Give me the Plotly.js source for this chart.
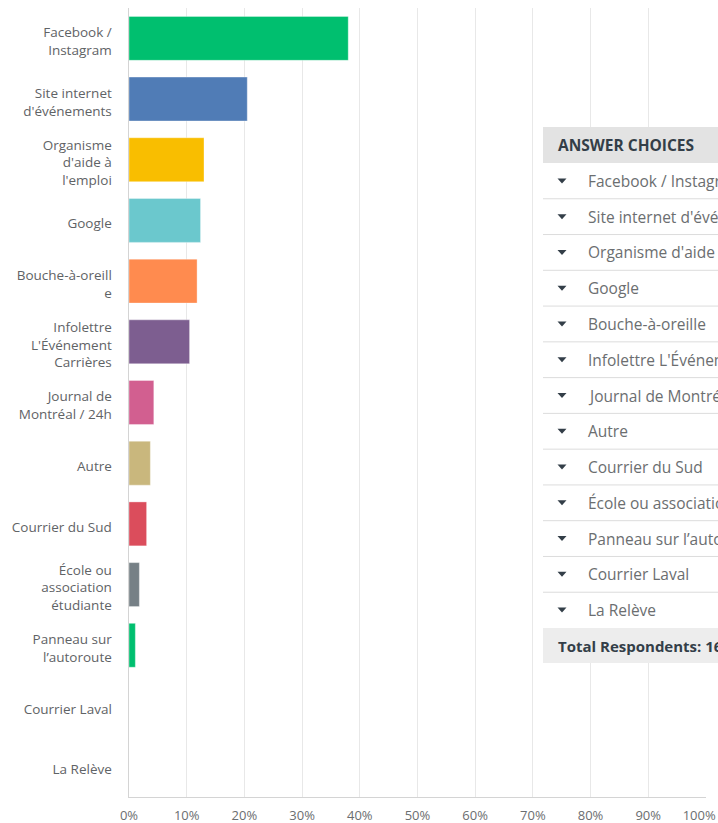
<!DOCTYPE html>
<html>
<head>
<meta charset="utf-8">
<script src="https://cdn.plot.ly/plotly-3.0.1.min.js"></script>
<style>
html,body{margin:0;padding:0;background:#fff;}
#chart{width:718px;height:823px;}
</style>
</head>
<body>
<div id="chart"></div>
<script>
// ---- data ----
const categories = [
  "Facebook / Instagram",
  "Site internet d'événements",
  "Organisme d'aide à l'emploi",
  "Google",
  "Bouche-à-oreille",
  "Infolettre L'Événement Carrières",
  "Journal de Montréal / 24h",
  "Autre",
  "Courrier du Sud",
  "École ou association étudiante",
  "Panneau sur l’autoroute",
  "Courrier Laval",
  "La Relève"
];
const tickLabels = [
  "Facebook /<br>Instagram",
  "Site internet<br>d'événements",
  "Organisme<br>d'aide à<br>l'emploi",
  "Google",
  "Bouche-à-oreill<br>e",
  "Infolettre<br>L'Événement<br>Carrières",
  "Journal de<br>Montréal / 24h",
  "Autre",
  "Courrier du Sud",
  "École ou<br>association<br>étudiante",
  "Panneau sur<br>l’autoroute",
  "Courrier Laval",
  "La Relève"
];
const percents = [38.0, 20.5, 13.0, 12.4, 11.8, 10.5, 4.3, 3.7, 3.05, 1.8, 1.1, 0, 0];
const barColors = ["#00BF6F","#507CB6","#F9BE00","#6BC8CD","#FF8B4F","#7D5E90","#D25F90","#C9B77D","#DB4D5C","#768086","#00BF6F","#00BF6F","#00BF6F"];
const xTickVals = [0,10,20,30,40,50,60,70,80,90,100];
const xTickText = ["0%","10%","20%","30%","40%","50%","60%","70%","80%","90%","100%"];
const tableHeader = "ANSWER CHOICES";
const totalLabel = "Total Respondents: 16";

// ---- layout helpers (pixel -> paper) ----
const W = 718, H = 823;
const M = {l:129, r:12, t:8, b:26};
const PW = W - M.l - M.r, PH = H - M.t - M.b;
const px = x => (x - M.l) / PW;
const py = y => (H - M.b - y) / PH;

const trace = {
  type: 'bar',
  orientation: 'h',
  y: categories,
  x: percents,
  marker: {color: barColors, line: {color: 'rgba(255,255,255,0.35)', width: 1}},
  hoverinfo: 'none'
};

const shapes = [];
const annotations = [];
const tTop = 127, hdrH = 36, rowH = (628 - 163) / categories.length, tBottom = 663;
const tLeft = 543;
const FONT = 'Open Sans, sans-serif';
// white backdrop
shapes.push({type:'rect', xref:'paper', yref:'paper', x0:px(536), x1:px(730), y0:py(tBottom), y1:py(tTop), fillcolor:'#ffffff', line:{width:0}, layer:'above'});
// header
shapes.push({type:'rect', xref:'paper', yref:'paper', x0:px(tLeft), x1:px(730), y0:py(tTop+hdrH), y1:py(tTop), fillcolor:'#e3e3e3', line:{width:0}, layer:'above'});
annotations.push({xref:'paper', yref:'paper', x:px(556), y:py(tTop+hdrH/2), xanchor:'left', yanchor:'middle', showarrow:false, text:'<b>'+tableHeader+'</b>', font:{family:FONT, size:15.5, color:'#333e48'}});
// rows
categories.forEach((c, i) => {
  const yc = tTop + hdrH + rowH * (i + 0.5);
  shapes.push({type:'path', xref:'paper', yref:'paper', xsizemode:'pixel', ysizemode:'pixel',
    xanchor:px(562), yanchor:py(yc), path:'M -4.5 2.5 L 4.5 2.5 L 0 -2.5 Z',
    fillcolor:'#333e48', line:{width:0}, layer:'above'});
  annotations.push({xref:'paper', yref:'paper', x:px(586), y:py(yc), xanchor:'left', yanchor:'middle', showarrow:false, text:c, font:{family:FONT, size:15.5, color:'#6b6e70'}});
  if (i < categories.length - 1) {
    const yl = tTop + hdrH + rowH * (i + 1);
    shapes.push({type:'line', xref:'paper', yref:'paper', x0:px(tLeft), x1:px(730), y0:py(yl), y1:py(yl), line:{color:'#dcdcdc', width:1}, layer:'above'});
  }
});
// total row
const totTop = tTop + hdrH + rowH * categories.length;
shapes.push({type:'rect', xref:'paper', yref:'paper', x0:px(tLeft), x1:px(730), y0:py(tBottom), y1:py(totTop), fillcolor:'#ededed', line:{width:0}, layer:'above'});
annotations.push({xref:'paper', yref:'paper', x:px(556), y:py((totTop+tBottom)/2), xanchor:'left', yanchor:'middle', showarrow:false, text:'<b>'+totalLabel+'</b>', font:{family:FONT, size:15, color:'#333e48'}});

// the last tick label is kept inside the page (as in the reference) by padding it on the right
const xTickTextShown = xTickText.map((t, i) => i === xTickText.length - 1 ? t + '\u00a0\u00a0\u00a0\u00a0' : t);

const layout = {
  width: W, height: H,
  margin: M,
  paper_bgcolor: '#ffffff', plot_bgcolor: '#ffffff',
  showlegend: false,
  bargap: 0.276,
  font: {family: FONT, size: 13, color: '#6b6e70'},
  xaxis: {
    range: [0, 100.01], tickvals: xTickVals, ticktext: xTickTextShown,
    showgrid: true, gridcolor: '#e8e8e8', gridwidth: 1, zeroline: false,
    showline: true, linecolor: '#d4d4d4', linewidth: 1,
    ticks: '', ticklabelstandoff: 6, ticklabeloverflow: 'allow', automargin: false, fixedrange: true,
    tickfont: {size: 13, color: '#6b6e70'}
  },
  yaxis: {
    type: 'category', autorange: 'reversed',
    tickvals: categories, ticktext: tickLabels,
    showgrid: false, zeroline: false,
    showline: true, linecolor: '#d4d4d4', linewidth: 1.5,
    ticks: '', ticklabelstandoff: 13, ticklabelshift: -3, automargin: false, fixedrange: true,
    tickfont: {size: 13.5, color: '#5f6366'}
  },
  shapes: shapes,
  annotations: annotations
};

Plotly.newPlot('chart', [trace], layout, {displayModeBar: false, staticPlot: true});
</script>
</body>
</html>
